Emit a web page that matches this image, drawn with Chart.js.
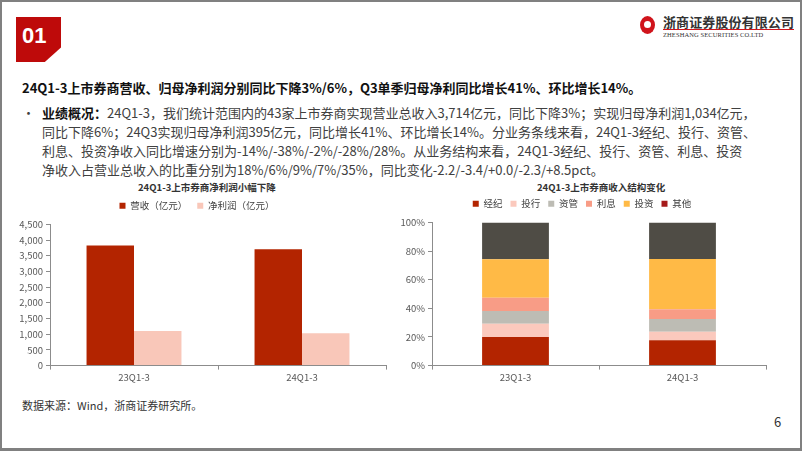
<!DOCTYPE html>
<html lang="zh-CN">
<head>
<meta charset="UTF-8">
<title>上市券商业绩概况</title>
<script src="https://cdn.jsdelivr.net/npm/chart.js"></script>
<style>
    * { margin: 0; padding: 0; box-sizing: border-box; }
    body { width: 802px; height: 451px; background: #fff; font-family: "Noto Sans CJK SC", "Noto Sans", sans-serif; position: relative; overflow: hidden; }
    .frame { position: absolute; left: 0; top: 0; width: 802px; height: 451px; border: 2px solid #808080; border-bottom-width: 3px; }
    .tag { position: absolute; left: 16px; top: 17px; width: 45px; height: 45px; background: #BE0A0A;
           clip-path: polygon(0 0, 100% 0, 100% 68%, 64% 100%, 0 100%); color: #fff; font: bold 22px "Liberation Sans", Arial, sans-serif; padding: 6px 0 0 6px; }
    .logo { position: absolute; left: 640px; top: 14px; }
    .logo .mark { position: absolute; left: 0; top: 2px; width: 15px; height: 18px; border-radius: 50%; background: #D0141C; }
    .logo .mark:after { content: ""; position: absolute; left: 4px; top: 5px; width: 7px; height: 7px; border-radius: 50%; background: #fff; }
    .logo .cn { position: absolute; left: 23px; top: 0; font-size: 13px; font-weight: bold; color: #333; white-space: nowrap; letter-spacing: 0.1px; border-bottom: 1px solid #D0141C; line-height: 15px; }
    .logo .en { position: absolute; left: 23px; top: 17px; font: 6.5px "Liberation Serif", serif; color: #333; white-space: nowrap; letter-spacing: 0.1px; }
    .head { position: absolute; left: 22px; top: 78px; font-size: 13px; font-weight: bold; color: #111; white-space: nowrap; }
    .para { position: absolute; left: 42px; top: 103px; font-size: 13px; line-height: 19px; color: #404040; white-space: nowrap; }
    .para b { color: #111; }
    .dot { position: absolute; left: 22px; top: 103px; font-size: 13px; line-height: 19px; color: #404040; }
    .ctitle { position: absolute; top: 180px; font-size: 9.5px; font-weight: bold; color: #333; white-space: nowrap; }
    .box { position: absolute; top: 191px; width: 390px; height: 194px; }
    .src { position: absolute; left: 22px; top: 397px; font-size: 11px; color: #333; }
    .page { position: absolute; left: 774px; top: 412px; font-size: 13px; color: #333; }
</style>
</head>
<body>
<div class="frame"></div>
<div class="tag">01</div>
<div class="logo">
    <div class="mark"></div>
    <div class="cn">浙商证券股份有限公司</div>
    <div class="en">ZHESHANG SECURITIES CO.LTD</div>
</div>

<div class="head">24Q1-3上市券商营收、归母净利润分别同比下降3%/6%，Q3单季归母净利同比增长41%、环比增长14%。</div>
<div class="dot">•</div>
<div class="para">
    <b>业绩概况：</b>24Q1-3，我们统计范围内的43家上市券商实现营业总收入3,714亿元，同比下降3%；实现归母净利润1,034亿元，<br>
    同比下降6%；24Q3实现归母净利润395亿元，同比增长41%、环比增长14%。分业务条线来看，24Q1-3经纪、投行、资管、<br>
    利息、投资净收入同比增速分别为-14%/-38%/-2%/-28%/28%。从业务结构来看，24Q1-3经纪、投行、资管、利息、投资<br>
    净收入占营业总收入的比重分别为18%/6%/9%/7%/35%，同比变化-2.2/-3.4/+0.0/-2.3/+8.5pct。
</div>

<div class="ctitle" style="left:138px">24Q1-3上市券商净利润小幅下降</div>
<div class="ctitle" style="left:537px">24Q1-3上市券商收入结构变化</div>
<div class="box" style="left:8px"><canvas id="graficoLucro"></canvas></div>
<div class="box" style="left:398px"><canvas id="graficoEstrutura"></canvas></div>

<div class="src">数据来源：Wind，浙商证券研究所。</div>
<div class="page">6</div>

<script>
    // 数据
    const periodos = ['23Q1-3', '24Q1-3'];
    const receita = [3828, 3714];      // 营收（亿元）
    const lucro = [1100, 1034];        // 净利润（亿元）

    const segmentos = ['经纪', '投行', '资管', '利息', '投资', '其他'];
    const jingji = [20.0, 17.7];
    const touhang = [9.2, 5.9];
    const ziguan = [9.0, 9.0];
    const lixi = [9.3, 6.8];
    const touzi = [26.8, 35.1];
    const qita = [25.7, 25.5];

    const fonte = '"Noto Sans CJK SC", "Noto Sans", sans-serif';
    Chart.defaults.font.family = fonte;
    Chart.defaults.color = '#595959';
    Chart.defaults.animation = false;

    // 图例与绘图区之间多留一点距离
    const margemLegenda = {
        id: 'margemLegenda',
        beforeInit(chart) {
            const fitOriginal = chart.legend.fit;
            chart.legend.fit = function () {
                fitOriginal.bind(chart.legend)();
                this.height += 4;
            };
        }
    };

    const eixo = {
        grid: { display: true, drawOnChartArea: false, tickLength: 4, color: '#8c8c8c' },
        border: { display: true, color: '#8c8c8c' },
        ticks: { font: { size: 9.5 }, color: '#595959' }
    };

    new Chart(document.getElementById('graficoLucro'), {
        type: 'bar',
        data: {
            labels: periodos,
            datasets: [
                { label: '营收（亿元）', data: receita, backgroundColor: '#B32400' },
                { label: '净利润（亿元）', data: lucro, backgroundColor: '#F9C7B9' }
            ]
        },
        options: {
            responsive: true,
            maintainAspectRatio: false,
            layout: { padding: { left: 0, right: 12, top: 0, bottom: 0 } },
            datasets: { bar: { categoryPercentage: 0.565, barPercentage: 1 } },
            plugins: {
                legend: { labels: { boxWidth: 6, boxHeight: 6, font: { size: 9.5 }, color: '#404040', padding: 10 } },
                tooltip: { enabled: false }
            },
            scales: {
                x: { ...eixo, ticks: { ...eixo.ticks, padding: 2 } },
                y: {
                    ...eixo,
                    min: 0, max: 4500,
                    ticks: { ...eixo.ticks, stepSize: 500, padding: 3, callback: v => v.toLocaleString('en-US') },
                    afterFit: s => { s.width = 42; }
                }
            }
        },
        plugins: [margemLegenda]
    });

    const coresSeg = ['#B32400', '#FBC9BD', '#BDBCB4', '#F89C86', '#FFBA46', '#4F4C45'];
    const valoresSeg = [jingji, touhang, ziguan, lixi, touzi, qita];

    new Chart(document.getElementById('graficoEstrutura'), {
        type: 'bar',
        data: {
            labels: periodos,
            datasets: segmentos.map((nome, i) => ({ label: nome, data: valoresSeg[i], backgroundColor: coresSeg[i] }))
        },
        options: {
            responsive: true,
            maintainAspectRatio: false,
            layout: { padding: { left: 0, right: 22, top: 0, bottom: 0 } },
            datasets: { bar: { categoryPercentage: 0.4, barPercentage: 1 } },
            plugins: {
                legend: {
                    labels: {
                        boxWidth: 6, boxHeight: 6, font: { size: 9.5 }, color: '#404040', padding: 8,
                        generateLabels: chart => {
                            const itens = Chart.defaults.plugins.legend.labels.generateLabels(chart);
                            // 原图中“其他”的图例色块为红色
                            itens[itens.length - 1].fillStyle = '#A51A1A';
                            return itens;
                        }
                    }
                },
                tooltip: { enabled: false }
            },
            scales: {
                x: { ...eixo, stacked: true, ticks: { ...eixo.ticks, padding: 2 } },
                y: {
                    ...eixo,
                    stacked: true,
                    min: 0, max: 100,
                    ticks: { ...eixo.ticks, stepSize: 10, padding: 3, callback: v => v + '%' },
                    afterFit: s => { s.width = 34; }
                }
            }
        },
        plugins: [margemLegenda]
    });
</script>
</body>
</html>
